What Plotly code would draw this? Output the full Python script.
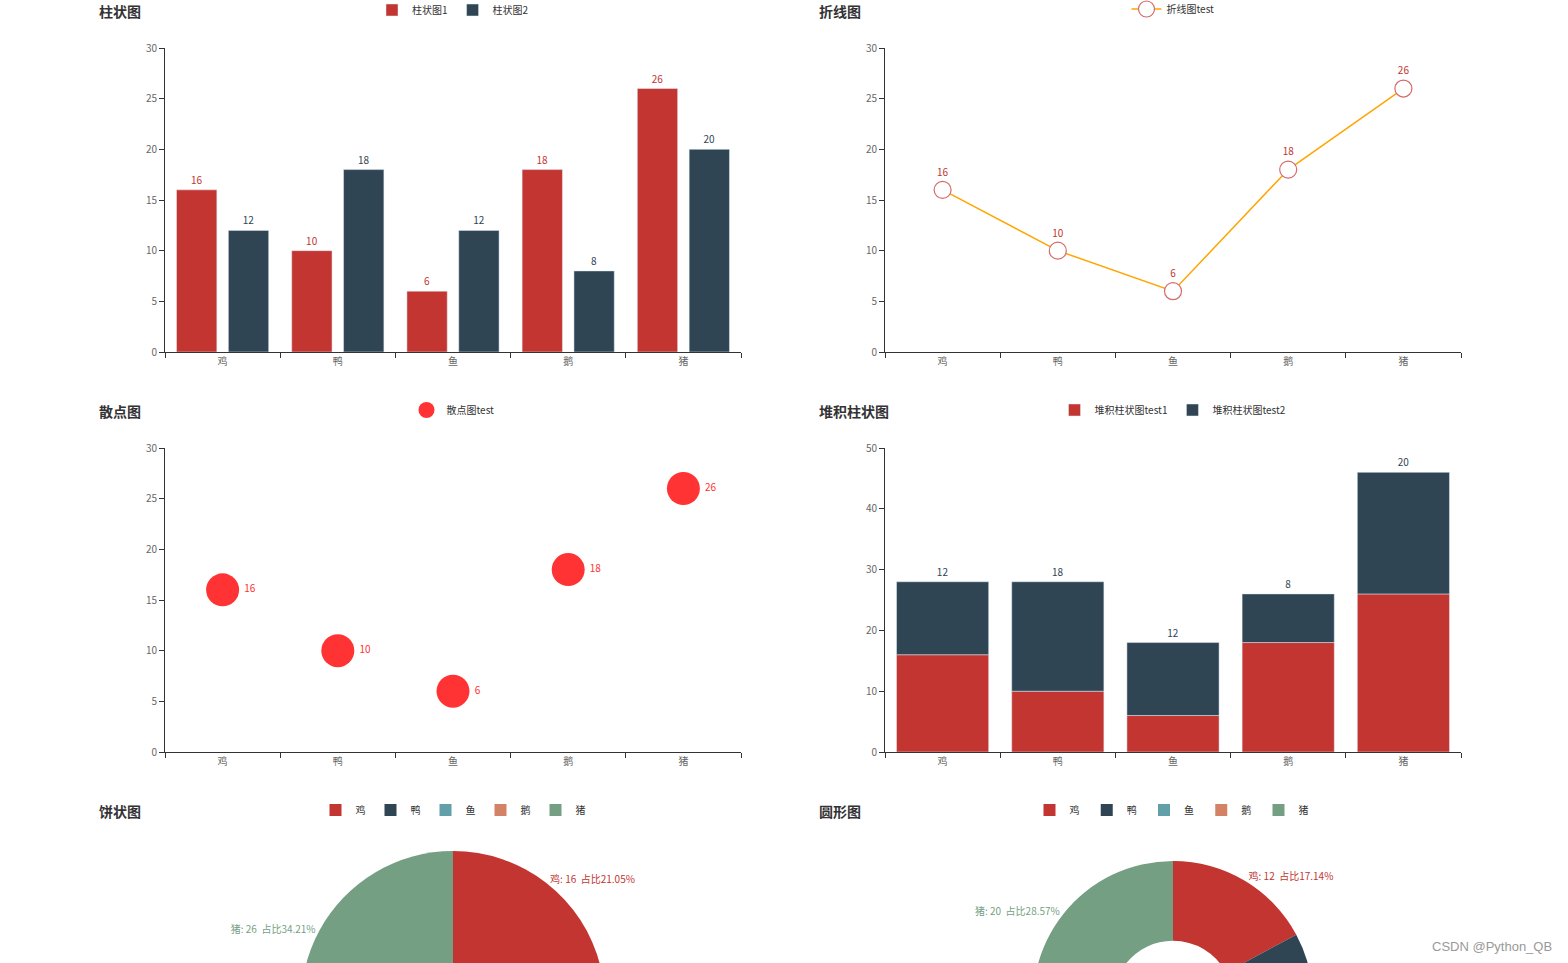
import plotly.graph_objects as go

# ---------------- data ----------------
categories = ["鸡", "鸭", "鱼", "鹅", "猪"]
bar1_values = [16, 10, 6, 18, 26]
bar2_values = [12, 18, 12, 8, 20]
line_values = [16, 10, 6, 18, 26]
scatter_values = [16, 10, 6, 18, 26]
stack1_values = [16, 10, 6, 18, 26]
stack2_values = [12, 18, 12, 8, 20]
pie_values = [16, 10, 6, 18, 26]
donut_values = [12, 18, 12, 8, 20]
y_ticks_30 = [0, 5, 10, 15, 20, 25, 30]
y_ticks_50 = [0, 10, 20, 30, 40, 50]

RED = "#c23531"
DARK = "#2f4554"
pie_colors = ["#c23531", "#2f4554", "#61a0a8", "#d48265", "#749f83"]
FONT = "Microsoft YaHei, Noto Sans CJK SC, sans-serif"

# ---------------- geometry helpers (screen px -> paper) ----------------
W, H = 1568, 1180


def px(x):
    return x / W


def py(y):
    return 1 - y / H


fig = go.Figure()

# 1. grouped bar chart
fig.add_trace(go.Bar(x=categories, y=bar1_values, name="柱状图1", marker_color=RED,
                     offset=-0.4, width=0.35, text=bar1_values, textposition="outside",
                     textfont=dict(color=RED, size=10), cliponaxis=False,
                     xaxis="x", yaxis="y", legend="legend"))
fig.add_trace(go.Bar(x=categories, y=bar2_values, name="柱状图2", marker_color=DARK,
                     offset=0.05, width=0.35, text=bar2_values, textposition="outside",
                     textfont=dict(color=DARK, size=10), cliponaxis=False,
                     xaxis="x", yaxis="y", legend="legend"))

# 2. line chart
fig.add_trace(go.Scatter(x=categories, y=line_values, name="折线图test",
                         mode="lines+markers+text",
                         line=dict(color="#ffa500", width=1.5),
                         marker=dict(size=17, color="white", line=dict(color="#d46a6a", width=1.2)),
                         text=line_values, textposition="top center",
                         textfont=dict(color=RED, size=10), cliponaxis=False,
                         xaxis="x2", yaxis="y2", legend="legend2"))

# 3. scatter chart
fig.add_trace(go.Scatter(x=categories, y=scatter_values, name="散点图test",
                         mode="markers+text",
                         marker=dict(size=33, color="red", opacity=0.8),
                         text=scatter_values, textposition="middle right",
                         textfont=dict(color="#ff3333", size=10), cliponaxis=False,
                         xaxis="x3", yaxis="y3", legend="legend3"))

# 4. stacked bar chart
fig.add_trace(go.Bar(x=categories, y=stack1_values, name="堆积柱状图test1", marker_color=RED,
                     width=0.8, xaxis="x4", yaxis="y4", legend="legend4"))
fig.add_trace(go.Bar(x=categories, y=stack2_values, base=stack1_values, name="堆积柱状图test2",
                     marker_color=DARK, width=0.8, text=stack2_values, textposition="outside",
                     textfont=dict(color=DARK, size=10), cliponaxis=False,
                     xaxis="x4", yaxis="y4", legend="legend4"))

# 5. pie chart
pc, pr = (453, 1003), 152
fig.add_trace(go.Pie(labels=categories, values=pie_values, text=categories,
                     sort=False, direction="clockwise",
                     rotation=0, marker=dict(colors=pie_colors),
                     domain=dict(x=[px(pc[0] - pr), px(pc[0] + pr)],
                                 y=[py(pc[1] + pr), py(pc[1] - pr)]),
                     textposition="outside",
                     texttemplate="%{text}: %{value}  占比%{percent:.2%}",
                     outsidetextfont=dict(color=pie_colors, size=10),
                     legend="legend5"))

# 6. donut chart (labels carry a trailing space so that its legend gets its own items)
dc, dr = (1173, 1001), 140
fig.add_trace(go.Pie(labels=[c + " " for c in categories], values=donut_values, text=categories,
                     sort=False, direction="clockwise",
                     rotation=0, hole=0.43, marker=dict(colors=pie_colors),
                     domain=dict(x=[px(dc[0] - dr), px(dc[0] + dr)],
                                 y=[py(dc[1] + dr), py(dc[1] - dr)]),
                     textposition="outside",
                     texttemplate="%{text}: %{value}  占比%{percent:.2%}",
                     outsidetextfont=dict(color=pie_colors, size=10),
                     legend="legend6"))

# ---------------- axes ----------------
axis_common = dict(showline=True, linecolor="#333", linewidth=1, ticks="outside", ticklen=5,
                   tickcolor="#333", showgrid=False, zeroline=False, automargin=False,
                   tickfont=dict(size=10, color="#666"))
xcat = dict(axis_common, type="category", range=[-0.5, 4.5], tickson="boundaries")

panels = {
    "": ((165, 741), (48, 352), [0, 30], y_ticks_30),
    "2": ((885, 1461), (48, 352), [0, 30], y_ticks_30),
    "3": ((165, 741), (448, 752), [0, 30], y_ticks_30),
    "4": ((885, 1461), (448, 752), [0, 50], y_ticks_50),
}
layout_axes = {}
for k, ((x0, x1), (y0, y1), yr, yt) in panels.items():
    layout_axes["xaxis" + k] = dict(xcat, domain=[px(x0), px(x1)], anchor="y" + k)
    layout_axes["yaxis" + k] = dict(axis_common, domain=[py(y1), py(y0)], anchor="x" + k,
                                    range=yr, tickvals=yt)


# ---------------- legends ----------------
def legend(cx, cy):
    return dict(orientation="h", x=px(cx), xanchor="center", y=py(cy), yanchor="middle",
                font=dict(size=10, color="#333", family=FONT), bgcolor="rgba(0,0,0,0)",
                traceorder="normal")


# ---------------- titles ----------------
titles = [("柱状图", 97, 11), ("折线图", 817, 11), ("散点图", 97, 411),
          ("堆积柱状图", 817, 411), ("饼状图", 97, 811), ("圆形图", 817, 811)]
annotations = [dict(text="<b>%s</b>" % t, x=px(x), y=py(y), xref="paper", yref="paper",
                    xanchor="left", yanchor="middle", showarrow=False,
                    font=dict(size=14, color="#333", family=FONT)) for t, x, y in titles]
annotations.append(dict(text="CSDN @Python_QB", x=px(1554), y=py(946), xref="paper",
                        yref="paper", xanchor="right", yanchor="middle", showarrow=False,
                        font=dict(size=13, color="#999", family="Liberation Sans, Arial")))

fig.update_layout(
    width=W, height=H, margin=dict(l=0, r=0, t=0, b=0, autoexpand=False), autosize=False,
    paper_bgcolor="white", plot_bgcolor="white",
    font=dict(family=FONT),
    barmode="overlay",
    annotations=annotations,
    legend=legend(453, 10), legend2=legend(1173, 9), legend3=legend(453, 410),
    legend4=legend(1173, 410), legend5=legend(453, 810), legend6=legend(1173, 810),
    **layout_axes,
)

fig.write_html("out.html", config={"displayModeBar": False},
               post_script="document.body.style.margin='0px';")
